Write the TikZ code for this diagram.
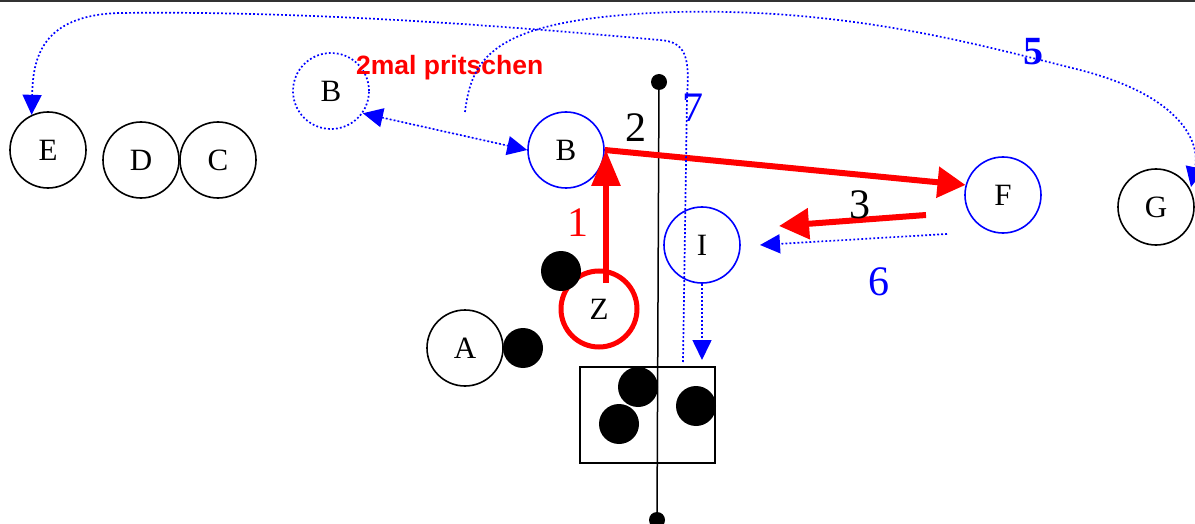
\documentclass[tikz,border=0pt]{standalone}
\usepackage{fontspec}
\setmainfont{Liberation Serif}
\newfontfamily\sansfam{Liberation Sans}
\usetikzlibrary{arrows.meta}
\definecolor{pred}{RGB}{255,0,0}
\definecolor{pblue}{RGB}{0,0,255}
\tikzset{
  pl/.style={circle, draw, line width=1.6pt, minimum size=76pt, inner sep=0pt, font=\fontsize{31}{31}\selectfont},
  bpl/.style={pl, draw=pblue},
  ball/.style={circle, fill=black, minimum size=40pt, inner sep=0pt},
  pin/.style={circle, fill=black, minimum size=16pt, inner sep=0pt},
  num/.style={font=\fontsize{42}{42}\selectfont, inner sep=0pt},
  redarr/.style={draw=pred, line width=6pt},
  bdot/.style={draw=pblue, line width=1.7pt, dash pattern=on 1.8pt off 2.2pt},
  btip/.style={-{Triangle[length=20pt,width=19pt]}, pblue},
}
\begin{document}
\begin{tikzpicture}[x=1pt,y=-1pt]
\useasboundingbox (0,0) rectangle (1195,524);
\draw[black!80, line width=2pt] (0,1.5) -- (1195,1.5);

% players
\node[pl] (E) at (48,150) {E};
\node[pl] (D) at (141,160) {D};
\node[pl] (C) at (218,160) {C};
\node[circle, bdot, minimum size=76pt, inner sep=0pt, font=\fontsize{31}{31}\selectfont] (Bd) at (331,91) {B};
\node[bpl] (B) at (566,150) {B};
\node[bpl] (F) at (1003,195) {F};
\node[pl] (G) at (1156,207) {G};
\node[bpl] (I) at (702,245) {I};
\node[pl] (A) at (465,348) {A};
\node[pl, draw=pred, line width=5pt] (Z) at (599,309) {Z};

% balls
\node[ball] (bz) at (561,271) {};
\node[ball] (ba) at (523,348) {};

% net / pole
\node[pin] (ptop) at (659,82) {};
\node[pin] (pbot) at (657,520) {};
\draw[line width=1.5pt] (ptop.center) -- (pbot.center);

% box with balls
\node[draw, line width=1.5pt, minimum width=135pt, minimum height=96pt, inner sep=0pt] (box) at (647.5,415) {};
\node[ball] (b1) at (638,387) {};
\node[ball] (b2) at (619,424) {};
\node[ball] (b3) at (696,406) {};

% text
\node[anchor=base west, inner sep=0pt, text=pred, font=\sansfam\bfseries\fontsize{26.5}{26.5}\selectfont] (t2m) at (356,75) {2mal pritschen};

% red arrows
\coordinate (z1) at (606,283);
\draw[redarr, -{Triangle[length=36pt,width=28pt]}] (z1) -- (B.east -| z1);
\draw[redarr, -{Triangle[length=28pt,width=30pt]}] (B.east) -- (F.165);
\coordinate (r3a) at (926,215);
\coordinate (r3b) at (779,226);
\draw[redarr, -{Triangle[length=30pt,width=30pt]}] (r3a) -- (r3b);

% blue dotted arrows
\draw[bdot, {Triangle[length=20pt,width=19pt]}-{Triangle[length=20pt,width=19pt]}, fill=pblue] (Bd.-35) -- (B.west);
\coordinate (s6a) at (947,234);
\coordinate (s6b) at (760,245);
\draw[bdot, btip] (s6a) -- (s6b);
\coordinate (iend) at (702,360);
\draw[bdot, btip] (I.south) -- (iend);
\coordinate (c7) at (683,362);
\draw[bdot, btip] (c7) -- (687,97) .. controls (690,55) and (685,42) .. (660,40)
   .. controls (600,35) and (350,10) .. (120,13) .. controls (40,15) and (33,60) .. (E.115);
\coordinate (s5) at (465,112);
\coordinate (g5) at (1191,187);
\draw[bdot, btip] (s5) .. controls (472,55) and (495,18) .. (676,12)
   .. controls (850,8) and (980,45) .. (1080,70) .. controls (1185,97) and (1200,145) .. (g5);

% numbers
\node[num, text=pred] (n1) at (578,223) {1};
\node[num] (n2) at (636,128) {2};
\node[num] (n3) at (860,205) {3};
\node[num, text=pblue] (n6) at (879,282) {6};
\node[num, text=pblue] (n7) at (693,108) {7};
\node[num, text=pblue, font=\bfseries\fontsize{40}{40}\selectfont] (n5) at (1033,52) {5};
\end{tikzpicture}
\end{document}
